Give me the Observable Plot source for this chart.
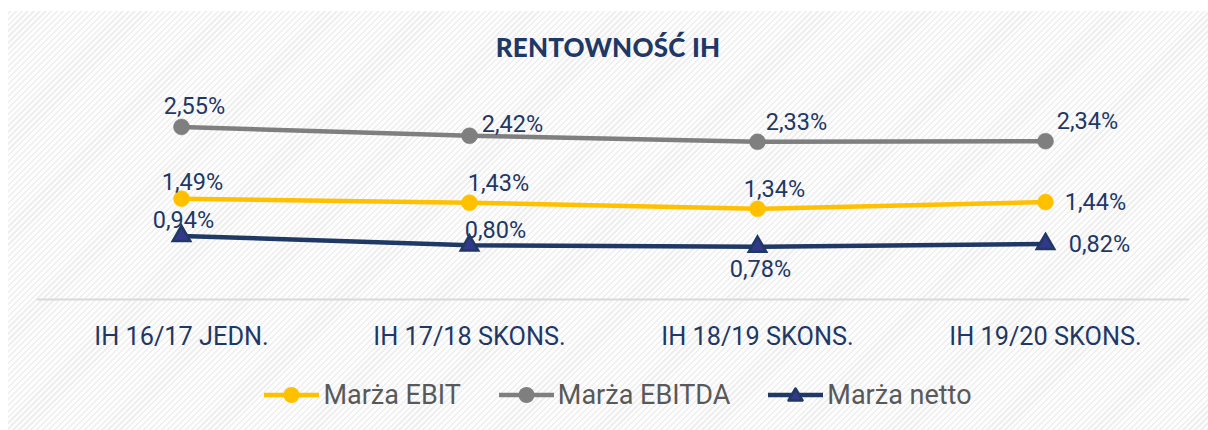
<!DOCTYPE html>
<html><head><meta charset="utf-8">
<script src="https://cdn.jsdelivr.net/npm/d3@7"></script>
<script src="https://cdn.jsdelivr.net/npm/@observablehq/plot@0.6"></script>
<style>
html,body{margin:0;padding:0;background:#fff;}
#wrap{position:relative;width:1208px;height:430px;overflow:hidden;font-family:Roboto,sans-serif;}
#panel{position:absolute;left:8px;top:11px;width:1200px;height:419px;
  background:repeating-linear-gradient(-45deg,#efefef 0px,#efefef 1.6px,#fdfdfd 1.6px,#fdfdfd 4.2px);}
#title{position:absolute;left:0;top:32px;width:1216px;text-align:center;font-family:Lato,sans-serif;font-weight:900;font-size:26px;line-height:30px;color:#1f3864;letter-spacing:0.2px;}
#chart{position:absolute;left:0;top:0;}
#legend{position:absolute;left:0;top:375px;width:1236px;display:flex;justify-content:center;align-items:center;gap:0;}
.item{display:flex;align-items:center;margin:0 19px;font-size:27px;color:#595959;}
.item svg{margin-right:3px;}
</style></head>
<body><div id="wrap"><div id="panel"></div><div id="title">RENTOWNOŚĆ IH</div><div id="chart"></div><div id="legend"></div></div>
<script>
const categories = ["IH 16/17 JEDN.", "IH 17/18 SKONS.", "IH 18/19 SKONS.", "IH 19/20 SKONS."];
const seriesNames = ["Marża EBIT", "Marża EBITDA", "Marża netto"];
const ebit = [1.49, 1.43, 1.34, 1.44];
const ebitda = [2.55, 2.42, 2.33, 2.34];
const netto = [0.94, 0.80, 0.78, 0.82];

const colors = {"Marża EBIT": "#ffc000", "Marża EBITDA": "#7f7f7f", "Marża netto": "#1f3864"};
const seriesValues = {"Marża EBIT": ebit, "Marża EBITDA": ebitda, "Marża netto": netto};
// label offsets (px) per series per category
const labelOffsets = {
  "Marża EBITDA": [[13,-20],[43,-11],[39,-19],[42,-20]],
  "Marża EBIT": [[11,-16],[29,-19],[17,-19],[50,0]],
  "Marża netto": [[2,-15],[26,-15],[3,23],[54,0]]
};

const rows = [];
for (const s of seriesNames) seriesValues[s].forEach((v,i)=>rows.push({series:s, cat:categories[i], value:v, i}));
const fmt = v => v.toFixed(2).replace(".", ",") + "%";

const marks = [
  Plot.ruleY([0], {stroke:"#d9d9d9", strokeWidth:2}),
  Plot.axisX({tickSize:0, tickPadding:28, fontSize:25.3, label:null, color:"#1f3864"}),
];
for (const s of ["Marża EBITDA","Marża EBIT","Marża netto"]) {
  const d = rows.filter(r=>r.series===s);
  marks.push(Plot.line(d, {x:"cat", y:"value", stroke:colors[s], strokeWidth:4.5}));
  if (s === "Marża netto") {
    marks.push(Plot.dot(d, {x:"cat", y:"value", symbol:"triangle", r:6.5, fill:"#33388a", stroke:"#1f3864", strokeWidth:2.5}));
  } else {
    marks.push(Plot.dot(d, {x:"cat", y:"value", r:8, fill:colors[s], stroke:colors[s], strokeWidth:0.5}));
  }
  d.forEach((r,k)=>{
    const [dx,dy] = labelOffsets[s][k];
    marks.push(Plot.text([r], {x:"cat", y:"value", text:q=>fmt(q.value), dx, dy, fill:"#1f3864", fontSize:23.5, textAnchor:"middle", lineAnchor:"middle"}));
  });
}

const chart = Plot.plot({
  width:1208, height:370,
  marginLeft:37, marginRight:19, marginTop:96, marginBottom:71,
  style:{background:"transparent", fontFamily:"Roboto, sans-serif", overflow:"visible", color:"#1f3864"},
  x:{type:"point", domain:categories, padding:0.5, axis:null},
  y:{domain:[0,3], axis:null},
  marks
});
document.getElementById("chart").appendChild(chart);

const legend = document.getElementById("legend");
for (const s of seriesNames) {
  const it = document.createElement("div"); it.className="item";
  const marker = s==="Marża netto"
    ? `<path d="M27.5,13.5 L34.5,25.5 L20.5,25.5 Z" fill="#33388a" stroke="#1f3864" stroke-width="2.5" stroke-linejoin="round"/>`
    : `<circle cx="27.5" cy="20" r="8" fill="${colors[s]}"/>`;
  it.innerHTML = `<svg width="56" height="40"><line x1="0" x2="55" y1="20" y2="20" stroke="${colors[s]}" stroke-width="4.5"/>${marker}</svg><span>${s}</span>`;
  legend.appendChild(it);
}
</script></body></html>
